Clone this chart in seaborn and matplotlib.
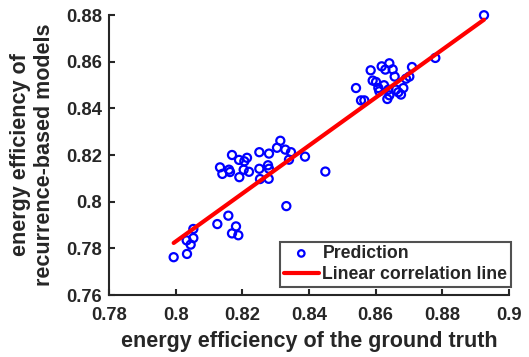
import numpy as np
import pandas as pd
import matplotlib
matplotlib.use("Agg")
import matplotlib.pyplot as plt
import seaborn as sns

ground_truth = [
    0.7994, 0.8034, 0.8033, 0.8045, 0.8053, 0.8053, 0.8125, 0.8158, 0.8181, 0.8169,
    0.8188, 0.8332, 0.8449,
    0.8133, 0.8140, 0.8160, 0.8163, 0.8169, 0.8190, 0.8206, 0.8214, 0.8204, 0.8220,
    0.8191, 0.8251, 0.8280, 0.8251, 0.8277, 0.8280, 0.8253, 0.8279, 0.8314, 0.8304,
    0.8329, 0.8346, 0.8340, 0.8388,
    0.8925, 0.8779, 0.8541, 0.8556, 0.8566, 0.8585, 0.8591, 0.8601, 0.8618, 0.8629,
    0.8641, 0.8651, 0.8657, 0.8709, 0.8608, 0.8611, 0.8625, 0.8638, 0.8641, 0.8635,
    0.8661, 0.8668, 0.8676, 0.8683, 0.8691, 0.8701,
]
predicted = [
    0.7762, 0.7776, 0.7834, 0.7816, 0.7844, 0.7883, 0.7904, 0.7940, 0.7894, 0.7864,
    0.7856, 0.7981, 0.8129,
    0.8147, 0.8119, 0.8137, 0.8127, 0.8200, 0.8179, 0.8173, 0.8188, 0.8137, 0.8128,
    0.8105, 0.8212, 0.8206, 0.8141, 0.8156, 0.8141, 0.8097, 0.8098, 0.8261, 0.8231,
    0.8223, 0.8212, 0.8180, 0.8193,
    0.8799, 0.8616, 0.8487, 0.8434, 0.8434, 0.8563, 0.8519, 0.8513, 0.8580, 0.8566,
    0.8593, 0.8567, 0.8536, 0.8577, 0.8487, 0.8473, 0.8499, 0.8480, 0.8456, 0.8440,
    0.8480, 0.8469, 0.8459, 0.8487, 0.8527, 0.8536,
]
line_x = [0.7994, 0.8925]
line_y = [0.7823, 0.8780]

x_ticks = [0.78, 0.80, 0.82, 0.84, 0.86, 0.88, 0.90]
x_tick_labels = ["0.78", "0.8", "0.82", "0.84", "0.86", "0.88", "0.9"]
y_ticks = [0.76, 0.78, 0.80, 0.82, 0.84, 0.86, 0.88]
y_tick_labels = ["0.76", "0.78", "0.8", "0.82", "0.84", "0.86", "0.88"]

sns.set_style("white")
plt.rcParams["font.family"] = ["Liberation Sans", "DejaVu Sans"]
plt.rcParams["font.weight"] = "bold"

fig = plt.figure(figsize=(5.29, 3.57), dpi=100)
ax = fig.add_axes([109/529, 62/357, 400/529, 280/357])

df = pd.DataFrame({"x": ground_truth, "y": predicted})
sns.scatterplot(data=df, x="x", y="y", ax=ax, marker="o", s=34,
                facecolors="none", edgecolor="#0000ff", linewidth=1.6,
                label="Prediction", zorder=3, clip_on=False)
ldf = pd.DataFrame({"x": line_x, "y": line_y})
sns.lineplot(data=ldf, x="x", y="y", ax=ax, color="#ff0000", linewidth=3,
             label="Linear correlation line", zorder=4)

ax.set_xlim(0.78, 0.90)
ax.set_ylim(0.76, 0.88)
ax.set_xticks(x_ticks)
ax.set_xticklabels(x_tick_labels)
ax.set_yticks(y_ticks)
ax.set_yticklabels(y_tick_labels)
ax.tick_params(bottom=True, left=True, direction="in", length=4, width=1.5,
               labelsize=13.2, colors="#262626")
ax.tick_params(axis="x", pad=9)
ax.tick_params(axis="y", pad=5)
for lab in ax.get_xticklabels() + ax.get_yticklabels():
    lab.set_fontweight("bold")
for s in ["top", "right"]:
    ax.spines[s].set_visible(False)
for s in ["left", "bottom"]:
    ax.spines[s].set_color("#262626")
    ax.spines[s].set_linewidth(1.5)

ax.set_xlabel("energy efficiency of the ground truth", fontsize=15.5,
              fontweight="bold", color="#262626", labelpad=5)
ax.set_ylabel("energy efficiency of\nrecurrence-based models", fontsize=15.5,
              fontweight="bold", color="#262626", labelpad=8, linespacing=1.15)

leg = ax.legend(loc="lower right", bbox_to_anchor=(1.005, 8/280), fontsize=12.7,
                frameon=True, fancybox=False, edgecolor="#262626", borderpad=0.2,
                handlelength=2.0, handletextpad=0.2, labelspacing=0.25,
                borderaxespad=0.0, markerscale=0.8)
leg.get_frame().set_linewidth(1.5)
for t in leg.get_texts():
    t.set_fontweight("bold")

fig.savefig("out.png", dpi=100)
